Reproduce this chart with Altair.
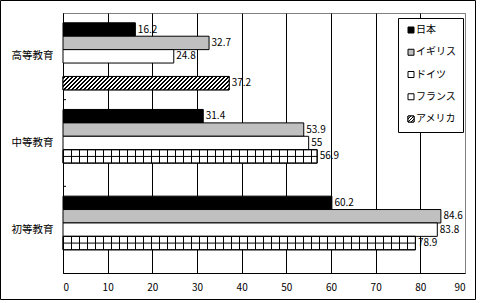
import altair as alt
import pandas as pd

categories = ["高等教育", "中等教育", "初等教育"]
series = ["日本", "イギリス", "ドイツ", "フランス", "アメリカ"]
japan = [16.2, 31.4, 60.2]
uk = [32.7, 53.9, 84.6]
germany = [24.8, 55, 83.8]
france = [None, 56.9, 78.9]
usa = [37.2, None, None]
x_ticks = [0, 10, 20, 30, 40, 50, 60, 70, 80, 90]
fills = ["#000000", "#c0c0c0", "#ffffff", "#ffffff", "#ffffff"]

FONT = "Noto Sans CJK JP"
W, H = 402, 260
PAD_OUT = 0.73
band = H / len(categories)
step = band / (len(series) + 2 * PAD_OUT)

rows = []
for s, vals in zip(series, [japan, uk, germany, france, usa]):
    for c, v in zip(categories, vals):
        if v is not None:
            rows.append({"cat": c, "series": s, "value": v, "zero": 0,
                         "label": f"{v:g}"})
df = pd.DataFrame(rows)

xs = alt.Scale(domain=[0, 90])
ys = alt.Scale(domain=categories, paddingInner=0, paddingOuter=0)
yos = alt.Scale(domain=series, paddingInner=0, paddingOuter=PAD_OUT)
fs = alt.Scale(domain=series, range=fills)

xenc = alt.X("value:Q", scale=xs,
             axis=alt.Axis(values=x_ticks, title=None, ticks=False,
                           labelPadding=9, domainColor="black",
                           gridColor={"condition": {"test": "datum.value === 90",
                                                    "value": "#808080"},
                                      "value": "black"},
                           grid=True, labelFontSize=10, labelFont=FONT,
                           labelColor="black"))
yenc = alt.Y("cat:N", scale=ys,
             axis=alt.Axis(title=None, ticks=False, labelPadding=10,
                           domainColor="black", labelFontSize=10.5,
                           labelFont=FONT, labelColor="black", grid=False))
yoenc = alt.YOffset("series:N", scale=yos)

base = alt.Chart(df)

bars = base.mark_bar(stroke="black", strokeWidth=1).encode(
    x=xenc, y=yenc, yOffset=yoenc,
    fill=alt.Fill("series:N", scale=fs, legend=None),
)

# diagonal hatch for アメリカ via linear gradient stripes
usa_val = [v for v in usa if v is not None][0]
bw = usa_val / 90 * W
bh = step
L = bw + bh
r = bh / bw
sc = L / (bw * (1 + r * r))
stops = [{"offset": 0, "color": "white"}]
k = 0
while 4 * k + 1.4 < L:
    a = (4 * k + 1.5) / L
    b = (4 * k + 2.9) / L
    stops += [{"offset": a, "color": "white"}, {"offset": a, "color": "black"},
              {"offset": b, "color": "black"}, {"offset": b, "color": "white"}]
    k += 1
stops.append({"offset": 1, "color": "white"})
hatch = {"gradient": "linear", "x1": 0, "y1": 0, "x2": sc, "y2": sc * r,
         "stops": stops}

hatch_bar = base.transform_filter(alt.datum.series == "アメリカ").mark_bar(
    fill=hatch, stroke="black", strokeWidth=1).encode(
    x=alt.X("value:Q", scale=xs), y=alt.Y("cat:N", scale=ys), yOffset=yoenc)

fr = base.transform_filter(alt.datum.series == "フランス")
grid_v = fr.mark_rule(color="black", strokeWidth=step, strokeDash=[1, 7],
                      strokeCap="butt").encode(
    x=alt.X("zero:Q", scale=xs), x2="value:Q",
    y=alt.Y("cat:N", scale=ys), yOffset=yoenc)
grid_h = fr.mark_rule(color="black", strokeWidth=1).encode(
    x=alt.X("zero:Q", scale=xs), x2="value:Q",
    y=alt.Y("cat:N", scale=ys), yOffset=yoenc)
fr_outline = fr.mark_bar(fill=None, filled=False, stroke="black", strokeWidth=1).encode(
    x=alt.X("value:Q", scale=xs), y=alt.Y("cat:N", scale=ys), yOffset=yoenc)

labels = base.mark_text(align="left", baseline="middle", dx=2.5, fontSize=10,
                        font=FONT, color="black").encode(
    x=alt.X("value:Q", scale=xs), y=alt.Y("cat:N", scale=ys), yOffset=yoenc,
    text="label:N")

ticks_df = pd.DataFrame({"cat": categories[1:]})
yticks = alt.Chart(ticks_df).mark_rule(color="black", strokeWidth=1).encode(
    x=alt.value(0), x2=alt.value(3),
    y=alt.Y("cat:N", scale=ys, bandPosition=0))

inner = alt.layer(bars, hatch_bar, grid_v, grid_h, fr_outline, labels, yticks)

# outer figure border
one = pd.DataFrame({"a": [0]})
border = alt.Chart(one).mark_rect(filled=False, stroke="black", strokeWidth=1).encode(
    x=alt.value(-62.5), x2=alt.value(412.5), y=alt.value(-12.5), y2=alt.value(286.5))

# custom legend
leg_df = pd.DataFrame({"series": series})
ly = alt.Y("series:N", scale=alt.Scale(domain=series, range=[17, 106], padding=0),
           axis=None)
leg_box = alt.Chart(one).mark_rect(fill="white", stroke="black", strokeWidth=1).encode(
    x=alt.value(335.5), x2=alt.value(400.5), y=alt.value(5.5), y2=alt.value(119.5))
leg_sym = alt.Chart(leg_df).mark_square(size=36, stroke="black", strokeWidth=1,
                                        opacity=1).encode(
    x=alt.value(348), y=ly, fill=alt.Fill("series:N", scale=fs, legend=None))
small_stops = [{"offset": 0, "color": "white"}]
for c0 in [0.28, 0.5, 0.72]:
    small_stops += [{"offset": c0 - 0.04, "color": "white"},
                    {"offset": c0 - 0.04, "color": "black"},
                    {"offset": c0 + 0.04, "color": "black"},
                    {"offset": c0 + 0.04, "color": "white"}]
small_stops.append({"offset": 1, "color": "white"})
small_hatch = {"gradient": "linear", "x1": 0, "y1": 0, "x2": 1, "y2": 1,
               "stops": small_stops}
leg_hatch = alt.Chart(leg_df).transform_filter(alt.datum.series == "アメリカ").mark_square(
    size=36, stroke="black", strokeWidth=1, fill=small_hatch, opacity=1).encode(
    x=alt.value(348), y=ly)
leg_txt = alt.Chart(leg_df).mark_text(align="left", baseline="middle", fontSize=10,
                                      font=FONT, color="black").encode(
    x=alt.value(353), y=ly, text="series:N")
legend = alt.layer(leg_box, leg_sym, leg_hatch, leg_txt)

chart = alt.layer(border, inner, legend).resolve_scale(y="independent").properties(
    width=W, height=H, autosize=alt.AutoSizeParams(type="none"),
    padding={"left": 63, "top": 13, "right": 15, "bottom": 30},
    background="white",
).configure_view(stroke="#808080", strokeWidth=1)

chart.save("out.html", embed_options={"renderer": "svg", "actions": False})
